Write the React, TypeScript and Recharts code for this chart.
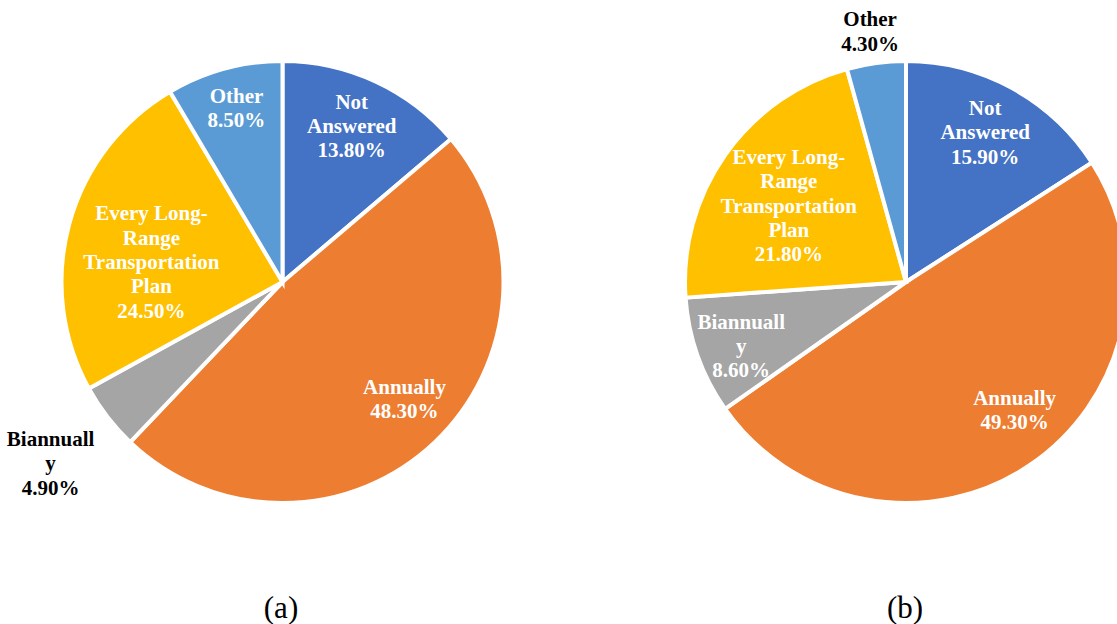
import React from "react";
import { PieChart, Pie, Cell } from "recharts";

const categories = [
  "Not Answered",
  "Annually",
  "Biannually",
  "Every Long-Range Transportation Plan",
  "Other",
];
const valuesA = [13.8, 48.3, 4.9, 24.5, 8.5];
const valuesB = [15.9, 49.3, 8.6, 21.8, 4.3];
const labelLines = [
  ["Not", "Answered"],
  ["Annually"],
  ["Biannuall", "y"],
  ["Every Long-", "Range", "Transportation", "Plan"],
  ["Other"],
];
const captions = ["(a)", "(b)"];

const colors = ["#4472C4", "#ED7D31", "#A5A5A5", "#FFC000", "#5B9BD5"];

// label placement: radius factor, angle offset (deg), colour
const labelSpecA = [
  { r: 0.772, da: 0.9, fill: "#fff" },
  { r: 0.765, da: 2.8, fill: "#fff" },
  { r: 1.332, da: 0.4, fill: "#000" },
  { r: 0.6, da: 6.6, fill: "#fff" },
  { r: 0.815, da: -0.5, fill: "#fff" },
];
const labelSpecB = [
  { r: 0.767, da: 0.8, fill: "#fff" },
  { r: 0.76, da: 6.4, fill: "#fff" },
  { r: 0.8, da: 1.7, fill: "#fff" },
  { r: 0.633, da: 2.1, fill: "#fff" },
  { r: 1.145, da: 0.4, fill: "#000" },
];

const dataA = categories.map((c, i) => ({ name: c, value: valuesA[i] }));
const dataB = categories.map((c, i) => ({ name: c, value: valuesB[i] }));

const RAD = Math.PI / 180;
const FONT = '"Liberation Serif", "Times New Roman", Times, serif';
const LH = 24.4;

function makeLabel(spec: any[], values: number[]) {
  return (props: any) => {
    const { cx, cy, midAngle, outerRadius, index } = props;
    const s = spec[index];
    const ang = (midAngle + s.da) * RAD;
    const x = cx + outerRadius * s.r * Math.cos(-ang);
    const y = cy + outerRadius * s.r * Math.sin(-ang);
    const lines = [...labelLines[index], values[index].toFixed(2) + "%"];
    const n = lines.length;
    return (
      <text
        x={x}
        y={y}
        textAnchor="middle"
        fill={s.fill}
        style={{ fontFamily: FONT, fontWeight: 700, fontSize: 21 }}
      >
        {lines.map((l, i) => (
          <tspan key={i} x={x} y={y + (i - (n - 1) / 2) * LH} dominantBaseline="central">
            {l}
          </tspan>
        ))}
      </text>
    );
  };
}

export default function App() {
  return (
    <div style={{ position: "absolute", left: 0, top: 0, width: 1117, height: 624, background: "#fff", overflow: "hidden" }}>
      <PieChart width={1117} height={624} margin={{ top: 0, right: 0, bottom: 0, left: 0 }}>
        <Pie
          data={dataA}
          dataKey="value"
          nameKey="name"
          cx={282.5}
          cy={282}
          outerRadius={221}
          startAngle={90}
          endAngle={-270}
          stroke="#fff"
          strokeWidth={4}
          labelLine={false}
          label={makeLabel(labelSpecA, valuesA)}
          isAnimationActive={false}
        >
          {dataA.map((d, i) => (
            <Cell key={i} fill={colors[i]} />
          ))}
        </Pie>
        <Pie
          data={dataB}
          dataKey="value"
          nameKey="name"
          cx={906}
          cy={282}
          outerRadius={221}
          startAngle={90}
          endAngle={-270}
          stroke="#fff"
          strokeWidth={4}
          labelLine={false}
          label={makeLabel(labelSpecB, valuesB)}
          isAnimationActive={false}
        >
          {dataB.map((d, i) => (
            <Cell key={i} fill={colors[i]} />
          ))}
        </Pie>
      </PieChart>
      <div style={{ position: "absolute", left: 281 - 50, width: 100, top: 590, textAlign: "center", fontFamily: FONT, fontSize: 31, lineHeight: "36px", color: "#000" }}>
        {captions[0]}
      </div>
      <div style={{ position: "absolute", left: 905 - 50, width: 100, top: 590, textAlign: "center", fontFamily: FONT, fontSize: 31, lineHeight: "36px", color: "#000" }}>
        {captions[1]}
      </div>
    </div>
  );
}
